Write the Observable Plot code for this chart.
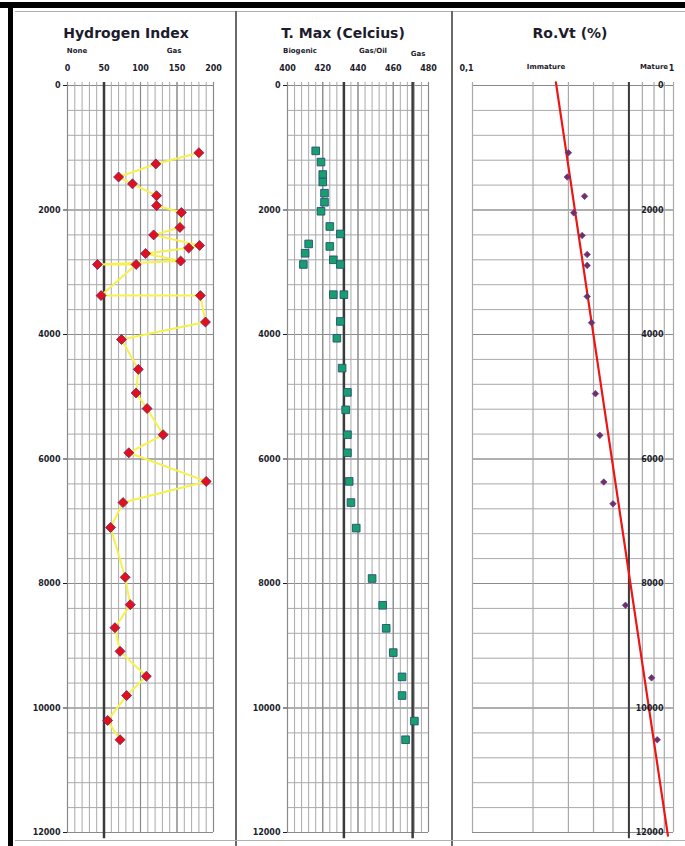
<!DOCTYPE html>
<html><head><meta charset="utf-8">
<script src="https://cdn.jsdelivr.net/npm/d3@7"></script>
<script src="https://cdn.jsdelivr.net/npm/@observablehq/plot@0.6"></script>
<style>
body{margin:0;background:#fff;}
#wrap{position:relative;width:685px;height:846px;overflow:hidden;background:#fff;font-family:"DejaVu Sans",sans-serif;color:#1c1c2c;}
.p{position:absolute;top:0;}
.p svg{overflow:visible;}
.t{position:absolute;font-weight:bold;font-size:14px;white-space:nowrap;transform:translateX(-50%);line-height:16px;}
.s{position:absolute;font-weight:bold;font-size:7px;white-space:nowrap;transform:translateX(-50%);line-height:9px;}
.b{position:absolute;}
</style></head>
<body><div id="wrap"></div>
<script>
// ---- data ----
const depthTicks = [0,2000,4000,6000,8000,10000,12000];
const hiTicks = [0,50,100,150,200];
const tmaxTicks = [400,420,440,460,480];
const roTicks = [0.1, 1];
const roTickLabels = ["0,1", "1"];

const hiDepth = [1080,1260,1470,1580,1770,1930,2040,2280,2400,2570,2610,2700,2820,2875,2875,3375,3375,3800,4080,4560,4940,5190,5610,5900,6360,6700,7100,7900,8340,8710,9090,9490,9800,10200,10510];
const hiValue = [180,121,70,89,122,122,156,154,118,181,166,107,155,41,94,46,182,189,74,97,94,109,131,84,190,76,59,79,86,65,72,108,81,55,72];

const tmaxDepth = [1050,1230,1430,1550,1730,1875,2020,2265,2385,2545,2585,2695,2800,2875,2875,3360,3360,3790,4060,4540,4930,5210,5610,5900,6360,6700,7110,7920,8350,8720,9110,9500,9800,10210,10510];
const tmaxValue = [416,419,420,420,421,421,419,424,430,412,424,410,426,409,430,426,432,430,428,431,434,433,434,434,435,436,439,448,454,456,460,465,465,472,467];

const roDepth = [1080,1470,1780,2045,2410,2715,2890,3390,3810,4950,5620,6370,6720,8350,9515,10510];
const roValue = [0.300,0.296,0.361,0.319,0.351,0.372,0.372,0.372,0.391,0.409,0.430,0.450,0.500,0.577,0.778,0.830];

const trendDepth = [-50, 12050];
const trendRo = [0.260, 0.938];

const hiThreshold = [50];
const tmaxThresholds = [432, 471];
const roThreshold = [0.6];

// ---- tables ----
const hiData = hiDepth.map((d,i)=>({depth:d, v:hiValue[i]}));
const tmaxData = tmaxDepth.map((d,i)=>({depth:d, v:tmaxValue[i]}));
const roData = roDepth.map((d,i)=>({depth:d, v:roValue[i]}));
const trendData = trendDepth.map((d,i)=>({depth:d, v:trendRo[i]}));

const depthMinor = d3.range(0, 12001, 400);
const minorC = "#a9a9a9", majorC = "#8a8a8a", txt = "#1c1c2c";
const H = 846, MT = 85, MB = 14;
const font = "DejaVu Sans";

function depthGrid(){
  return [
    Plot.ruleY(depthMinor, {stroke:minorC, strokeWidth:1}),
    Plot.ruleY(depthTicks, {stroke:majorC, strokeWidth:1.2})
  ];
}

const wrap = document.getElementById("wrap");
function place(el, left){ const d=document.createElement("div"); d.className="p"; d.style.left=left+"px"; d.appendChild(el); wrap.appendChild(d); }
function label(cls, text, x, y){ const d=document.createElement("div"); d.className=cls; d.textContent=text; d.style.left=x+"px"; d.style.top=y+"px"; wrap.appendChild(d); }
function box(x,y,w,h,c){ const d=document.createElement("div"); d.className="b"; Object.assign(d.style,{left:x+"px",top:y+"px",width:w+"px",height:h+"px",background:c}); wrap.appendChild(d); }

// ---- Panel 1: Hydrogen Index ----
const p1 = Plot.plot({
  width:224, height:H, marginLeft:55, marginRight:23, marginTop:MT, marginBottom:MB,
  style:{fontFamily:font, background:"transparent"},
  x:{domain:[0,200], axis:null}, y:{domain:[0,12000], reverse:true, axis:null},
  marks:[
    ...depthGrid(),
    Plot.ruleX(d3.range(0,201,10), {y1:-50, y2:12000, stroke:minorC}),
    Plot.ruleX(hiTicks, {y1:-50, y2:12000, stroke:majorC, strokeWidth:1.2}),
    Plot.ruleX(hiThreshold, {y1:-50, y2:12100, stroke:"#3a3a3a", strokeWidth:2.5}),
    Plot.line(hiData, {x:"v", y:"depth", stroke:"#f6f24a", strokeWidth:2}),
    Plot.dot(hiData, {x:"v", y:"depth", symbol:"diamond2", r:4.5, fill:"#e2101e", stroke:"#6a2060", strokeWidth:0.8}),
    Plot.axisX({anchor:"top", ticks:hiTicks, tickSize:0, tickPadding:15, fontSize:8, fontWeight:"bold", fill:txt, label:null, tickFormat:d=>String(d)}),
    Plot.axisY({anchor:"left", ticks:depthTicks, tickSize:4, tickPadding:3, fontSize:8, fontWeight:"bold", fill:txt, label:null, tickFormat:d=>String(d)})
  ]
});
place(p1, 12);

// ---- Panel 2: T. Max ----
const p2 = Plot.plot({
  width:214, height:H, marginLeft:49, marginRight:24, marginTop:MT, marginBottom:MB,
  style:{fontFamily:font, background:"transparent"},
  x:{domain:[400,480], axis:null}, y:{domain:[0,12000], reverse:true, axis:null},
  marks:[
    ...depthGrid(),
    Plot.ruleX(d3.range(400,481,4), {y1:-50, y2:12000, stroke:minorC}),
    Plot.ruleX(tmaxTicks, {y1:-50, y2:12000, stroke:majorC, strokeWidth:1.2}),
    Plot.ruleX(tmaxThresholds, {y1:-50, y2:12100, stroke:"#3a3a3a", strokeWidth:2.5}),
    Plot.dot(tmaxData, {x:"v", y:"depth", symbol:"square", r:4.3, fill:"#17a06c", stroke:"#24507a", strokeWidth:0.9}),
    Plot.axisX({anchor:"top", ticks:tmaxTicks, tickSize:0, tickPadding:15, fontSize:8, fontWeight:"bold", fill:txt, label:null, tickFormat:d=>String(d)}),
    Plot.axisY({anchor:"left", ticks:depthTicks, tickSize:4, tickPadding:3, fontSize:8, fontWeight:"bold", fill:txt, label:null, tickFormat:d=>String(d)})
  ]
});
place(p2, 238);

// ---- Panel 3: Ro ----
const p3 = Plot.plot({
  width:229, height:H, marginLeft:18, marginRight:10, marginTop:MT, marginBottom:MB,
  style:{fontFamily:font, background:"transparent"},
  x:{type:"log", domain:[0.1,1], axis:null}, y:{domain:[0,12000], reverse:true, axis:null},
  marks:[
    ...depthGrid(),
    Plot.ruleX(d3.range(1,11).map(k=>k/10), {y1:-50, y2:12000, stroke:minorC, strokeWidth:1.2}),
    Plot.ruleX(roThreshold, {y1:-50, y2:12100, stroke:"#3a3a3a", strokeWidth:2}),
    Plot.line(trendData, {x:"v", y:"depth", stroke:"#ee1515", strokeWidth:2.2}),
    Plot.dot(roData, {x:"v", y:"depth", symbol:"diamond2", r:3, fill:"#7a2a66", stroke:"#4a4a9a", strokeWidth:0.6}),
    Plot.axisX({anchor:"top", ticks:[roTicks[0]], tickSize:0, tickPadding:15, dx:-6, fontSize:8, fontWeight:"bold", fill:txt, label:null, tickFormat:()=>roTickLabels[0]}),
    Plot.axisX({anchor:"top", ticks:[roTicks[1]], tickSize:0, tickPadding:15, dx:-2, fontSize:8, fontWeight:"bold", fill:txt, label:null, tickFormat:()=>roTickLabels[1]}),
    Plot.text(depthTicks, {y:d=>d, frameAnchor:"right", dx:-10, textAnchor:"end", text:d=>String(d), fontSize:8, fontWeight:"bold", fill:txt})
  ]
});
place(p3, 454);

// ---- titles & category labels ----
label("t", "Hydrogen Index", 126, 25);
label("s", "None", 77, 47);
label("s", "Gas", 174, 47);
label("t", "T. Max (Celcius)", 343, 25);
label("s", "Biogenic", 300, 47);
label("s", "Gas/Oil", 373, 47);
label("s", "Gas", 418, 50);
label("t", "Ro.Vt (%)", 570, 25);
label("s", "Immature", 546, 63);
label("s", "Mature", 654, 63);

// ---- borders ----
box(0, 2, 685, 6, "#000");
box(8, 2, 5, 844, "#000");
box(15, 11, 670, 1, "#b0b0b0");
box(235, 11, 2, 835, "#6a6a6a");
box(451, 11, 2, 835, "#6a6a6a");
box(15, 840, 670, 1, "#b0b0b0");
</script></body></html>
